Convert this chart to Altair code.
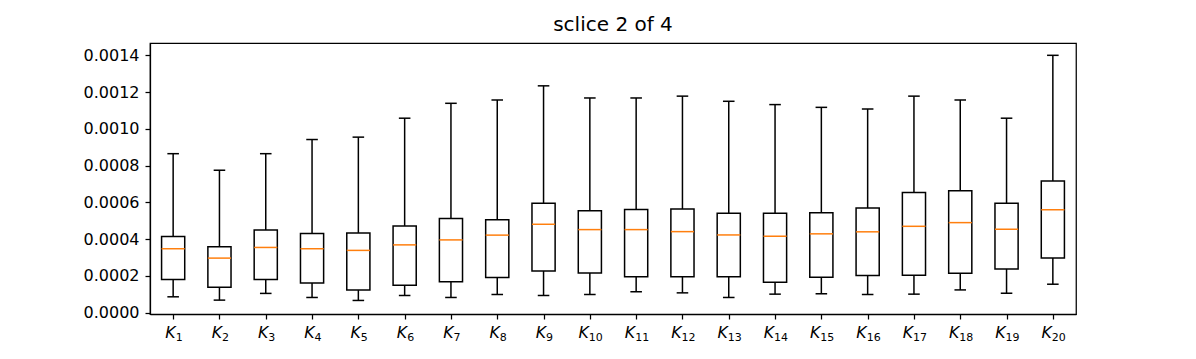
import altair as alt
import pandas as pd

label_letter = ["K"] * 20
label_sub = [str(i) for i in range(1, 21)]
positions = list(range(1, 21))
whisker_low = [0.0000865, 0.0000685, 0.000105, 0.0000829, 0.0000667, 0.0000937, 0.0000829,
               0.0000991, 0.0000937, 0.0000991, 0.000114, 0.000108, 0.0000829, 0.000101,
               0.000103, 0.0000991, 0.000101, 0.000124, 0.000106, 0.000155]
q1 = [0.000180, 0.000139, 0.000180, 0.000162, 0.000123, 0.000150, 0.000169,
      0.000191, 0.000227, 0.000216, 0.000196, 0.000196, 0.000195, 0.000166,
      0.000193, 0.000202, 0.000204, 0.000214, 0.000238, 0.000297]
median = [0.000348, 0.000297, 0.000355, 0.000348, 0.000339, 0.000369, 0.000396,
          0.000422, 0.000481, 0.000452, 0.000452, 0.000441, 0.000423, 0.000416,
          0.000429, 0.000440, 0.000470, 0.000490, 0.000454, 0.000560]
q3 = [0.000414, 0.000359, 0.000450, 0.000431, 0.000434, 0.000472, 0.000512,
      0.000506, 0.000596, 0.000555, 0.000562, 0.000564, 0.000541, 0.000541,
      0.000544, 0.000569, 0.000654, 0.000663, 0.000595, 0.000717]
whisker_high = [0.000865, 0.000775, 0.000865, 0.000942, 0.000955, 0.001058, 0.001139,
                0.001157, 0.001234, 0.001168, 0.001168, 0.001178, 0.001150, 0.001132,
                0.001117, 0.001108, 0.001178, 0.001157, 0.001058, 0.001400]
y_ticks = [0.0, 0.0002, 0.0004, 0.0006, 0.0008, 0.0010, 0.0012, 0.0014]

df = pd.DataFrame({
    "pos": positions, "letter": label_letter, "sub": label_sub,
    "low": whisker_low, "q1": q1, "med": median, "q3": q3, "high": whisker_high,
})

xscale = alt.Scale(domain=[0.5, 20.5], nice=False, zero=False)
yscale = alt.Scale(domain=[-0.000007, 0.001467], nice=False, zero=False)

xaxis = alt.Axis(values=positions, labels=False, title=None, grid=False)
yaxis = alt.Axis(values=y_ticks, format=".4f", title=None, grid=False,
                 labelOverlap=False, labelPadding=6)

base = alt.Chart(df).transform_calculate(
    bl="datum.pos - 0.25", br="datum.pos + 0.25",
    cl="datum.pos - 0.125", cr="datum.pos + 0.125",
)

LW = 1.5

whisk_lo = base.mark_rule(color="black", strokeWidth=LW).encode(
    x=alt.X("pos:Q", scale=xscale, axis=xaxis),
    y=alt.Y("low:Q", scale=yscale, axis=yaxis), y2="q1:Q")
whisk_hi = base.mark_rule(color="black", strokeWidth=LW).encode(
    x=alt.X("pos:Q", scale=xscale, axis=xaxis),
    y=alt.Y("q3:Q", scale=yscale, axis=yaxis), y2="high:Q")
cap_lo = base.mark_rule(color="black", strokeWidth=LW).encode(
    x=alt.X("cl:Q", scale=xscale, axis=xaxis), x2="cr:Q",
    y=alt.Y("low:Q", scale=yscale, axis=yaxis))
cap_hi = base.mark_rule(color="black", strokeWidth=LW).encode(
    x=alt.X("cl:Q", scale=xscale, axis=xaxis), x2="cr:Q",
    y=alt.Y("high:Q", scale=yscale, axis=yaxis))
box = base.mark_rect(fill="white", fillOpacity=0, stroke="black", strokeWidth=LW).encode(
    x=alt.X("bl:Q", scale=xscale, axis=xaxis), x2="br:Q",
    y=alt.Y("q1:Q", scale=yscale, axis=yaxis), y2="q3:Q")
med = base.mark_rule(color="#ff7f0e", strokeWidth=LW).encode(
    x=alt.X("bl:Q", scale=xscale, axis=xaxis), x2="br:Q",
    y=alt.Y("med:Q", scale=yscale, axis=yaxis))

LETTER_SIZE = 15.7
SUB_SIZE = 11


def tick_label(one_digit):
    flt = "datum.pos < 10" if one_digit else "datum.pos >= 10"
    dx = 2.5 if one_digit else -1
    letter = base.transform_filter(flt).mark_text(
        font="DejaVu Sans", fontStyle="italic", fontSize=LETTER_SIZE, color="black",
        align="right", baseline="alphabetic", dx=dx,
    ).encode(x=alt.X("pos:Q", scale=xscale, axis=xaxis), y=alt.value(294.5), text="letter:N")
    sub = base.transform_filter(flt).mark_text(
        font="DejaVu Sans", fontSize=SUB_SIZE, color="black",
        align="left", baseline="alphabetic", dx=dx,
    ).encode(x=alt.X("pos:Q", scale=xscale, axis=xaxis), y=alt.value(297.5), text="sub:N")
    return [letter, sub]


layers = [whisk_lo, whisk_hi, cap_lo, cap_hi, box, med] + tick_label(True) + tick_label(False)

chart = alt.layer(*layers).properties(
    width=926, height=271,
    title=alt.TitleParams("sclice 2 of 4", fontSize=20, fontWeight="normal",
                          font="DejaVu Sans", color="black", offset=8, anchor="middle"),
    autosize=alt.AutoSizeParams(type="none"),
    padding={"left": 142, "top": 35, "right": 20, "bottom": 30},
).configure_view(
    stroke="black", strokeWidth=1.25
).configure_axis(
    labelFont="DejaVu Sans", labelFontSize=16, labelColor="black",
    domainColor="black", domainWidth=1.25, tickColor="black", tickWidth=1.25,
    tickSize=5, labelOverlap=False,
).configure_axisX(labels=False)

chart.save("out.html", embed_options={"renderer": "svg", "actions": False})
